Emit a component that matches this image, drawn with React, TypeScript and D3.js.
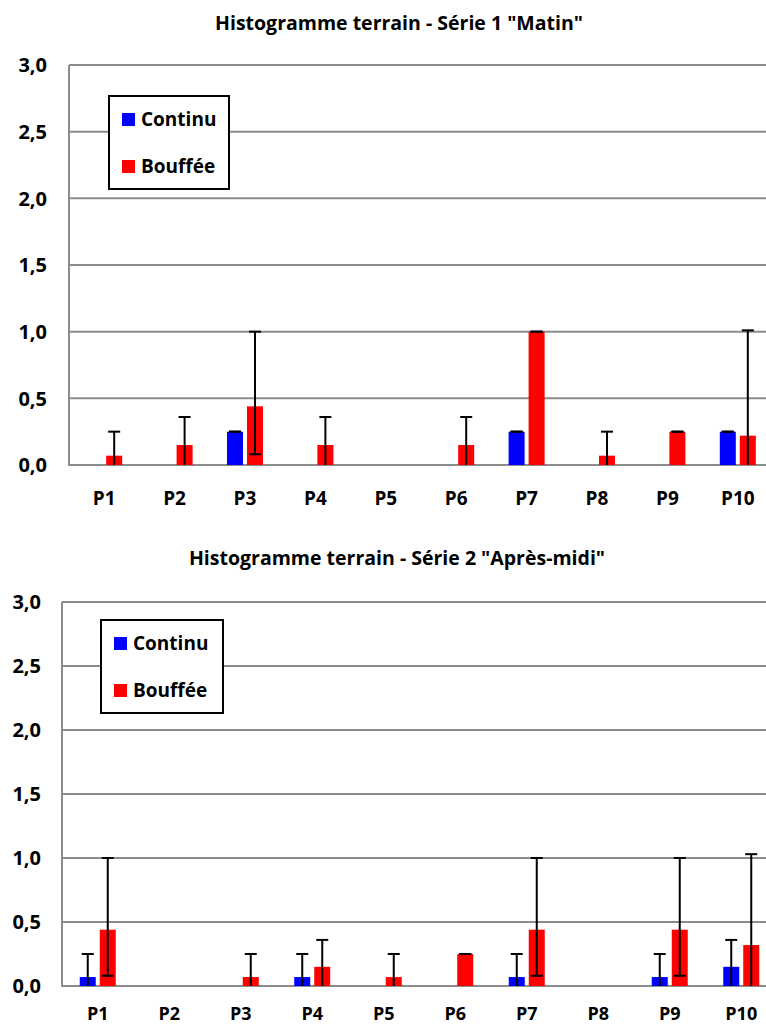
import * as d3 from "d3";

const categories = ["P1", "P2", "P3", "P4", "P5", "P6", "P7", "P8", "P9", "P10"];
const yTicks = [0, 0.5, 1, 1.5, 2, 2.5, 3];
const seriesNames = ["Continu", "Bouffée"];
const seriesColors = ["#0000FF", "#FF0000"];

// Série 1 "Matin"
const continu1 = [null, null, 0.25, null, null, null, 0.25, null, null, 0.25];
const continu1Lo = [null, null, 0.25, null, null, null, 0.25, null, null, 0.25];
const continu1Hi = [null, null, 0.25, null, null, null, 0.25, null, null, 0.25];
const bouffee1 = [0.07, 0.15, 0.44, 0.15, null, 0.15, 1.0, 0.07, 0.25, 0.22];
const bouffee1Lo = [0, 0, 0.08, 0, null, 0, 1.0, 0, 0.25, 0];
const bouffee1Hi = [0.25, 0.36, 1.0, 0.36, null, 0.36, 1.0, 0.25, 0.25, 1.01];

// Série 2 "Après-midi"
const continu2 = [0.07, null, null, 0.07, null, null, 0.07, null, 0.07, 0.15];
const continu2Lo = [0, null, null, 0, null, null, 0, null, 0, 0];
const continu2Hi = [0.25, null, null, 0.25, null, null, 0.25, null, 0.25, 0.36];
const bouffee2 = [0.44, null, 0.07, 0.15, 0.07, 0.25, 0.44, null, 0.44, 0.32];
const bouffee2Lo = [0.08, null, 0, 0, 0, 0.25, 0.08, null, 0.08, 0];
const bouffee2Hi = [1.0, null, 0.25, 0.36, 0.25, 0.25, 1.0, null, 1.0, 1.03];

const FONT = "'Open Sans', 'Noto Sans', sans-serif";
const GRID = "#8c8c8c";

type Chart = {
  title: string;
  titleX: number;
  left: number;
  right: number;
  top: number;
  bottom: number;
  titleY: number;
  labelY: number;
  labelSize: number;
  tickRight: number;
  legend: { x: number; y: number; w: number; h: number };
  values: (number | null)[][];
  lows: (number | null)[][];
  highs: (number | null)[][];
};

const charts: Chart[] = [
  {
    title: 'Histogramme terrain - Série 1 "Matin"',
    titleX: 399,
    left: 69,
    right: 773,
    top: 65,
    bottom: 465,
    titleY: 30,
    labelY: 505,
    labelSize: 19,
    tickRight: 47,
    legend: { x: 109, y: 96, w: 120, h: 93 },
    values: [continu1, bouffee1],
    lows: [continu1Lo, bouffee1Lo],
    highs: [continu1Hi, bouffee1Hi],
  },
  {
    title: 'Histogramme terrain - Série 2 "Après-midi"',
    titleX: 397,
    left: 62,
    right: 777,
    top: 602,
    bottom: 986,
    titleY: 565,
    labelY: 1020,
    labelSize: 18,
    tickRight: 41,
    legend: { x: 101, y: 620, w: 122, h: 93 },
    values: [continu2, bouffee2],
    lows: [continu2Lo, bouffee2Lo],
    highs: [continu2Hi, bouffee2Hi],
  },
];

function BarChart({ c }: { c: Chart }) {
  const x = d3.scaleBand<string>().domain(categories).range([c.left, c.right]);
  const inner = d3
    .scaleBand<string>()
    .domain(seriesNames)
    .range([-18, 18])
    .paddingInner(0.2);
  const y = d3.scaleLinear().domain([0, 3]).range([c.bottom, c.top]);
  const fmt = (v: number) => d3.format(".1f")(v).replace(".", ",");
  const capHalf = 6;

  return (
    <g>
      <text
        x={c.titleX}
        y={c.titleY}
        textAnchor="middle"
        fontFamily={FONT}
        fontWeight="bold"
        fontSize={19.5}
        fill="#000"
      >
        {c.title}
      </text>

      {/* grid */}
      {yTicks.map((t) => (
        <g key={t}>
          <line x1={c.left} x2={c.right} y1={y(t)} y2={y(t)} stroke={GRID} strokeWidth={2} />
          <text
            x={c.tickRight}
            y={y(t)}
            dy="0.36em"
            textAnchor="end"
            fontFamily={FONT}
            fontWeight="bold"
            fontSize={20}
            fill="#000"
          >
            {fmt(t)}
          </text>
        </g>
      ))}
      <line x1={c.left} x2={c.left} y1={c.top} y2={c.bottom + 1} stroke={GRID} strokeWidth={2} />

      {/* bars */}
      {seriesNames.map((s, si) =>
        categories.map((cat, i) => {
          const v = c.values[si][i];
          if (v === null) return null;
          const bx = (x(cat) as number) + x.bandwidth() / 2 + (inner(s) as number);
          return (
            <rect
              key={s + cat}
              x={bx}
              y={y(v)}
              width={inner.bandwidth()}
              height={y(0) - y(v)}
              fill={seriesColors[si]}
            />
          );
        })
      )}

      {/* error bars */}
      {seriesNames.map((s, si) =>
        categories.map((cat, i) => {
          const lo = c.lows[si][i];
          const hi = c.highs[si][i];
          if (lo === null || hi === null) return null;
          const cx = (x(cat) as number) + x.bandwidth() / 2 + (inner(s) as number) + inner.bandwidth() / 2;
          return (
            <g key={"e" + s + cat} stroke="#000" strokeWidth={2}>
              {hi > lo && <line x1={cx} x2={cx} y1={y(hi)} y2={y(lo)} />}
              <line x1={cx - capHalf} x2={cx + capHalf} y1={y(hi)} y2={y(hi)} />
              {lo > 0 && <line x1={cx - capHalf} x2={cx + capHalf} y1={y(lo)} y2={y(lo)} />}
            </g>
          );
        })
      )}

      {/* category labels */}
      {categories.map((cat) => (
        <text
          key={cat}
          x={(x(cat) as number) + x.bandwidth() / 2}
          y={c.labelY}
          textAnchor="middle"
          fontFamily={FONT}
          fontWeight="bold"
          fontSize={c.labelSize}
          fill="#000"
        >
          {cat}
        </text>
      ))}

      {/* legend */}
      <rect
        x={c.legend.x}
        y={c.legend.y}
        width={c.legend.w}
        height={c.legend.h}
        fill="#fff"
        stroke="#000"
        strokeWidth={2}
      />
      {seriesNames.map((s, si) => (
        <g key={"l" + s}>
          <rect
            x={c.legend.x + 13}
            y={c.legend.y + 17 + si * 47}
            width={13}
            height={13}
            fill={seriesColors[si]}
          />
          <text
            x={c.legend.x + 32}
            y={c.legend.y + 30 + si * 47}
            fontFamily={FONT}
            fontWeight="bold"
            fontSize={19}
            fill="#000"
          >
            {s}
          </text>
        </g>
      ))}
    </g>
  );
}

export default function App() {
  return (
    <svg
      width={766}
      height={1026}
      style={{ position: "absolute", left: 0, top: 0, background: "#fff" }}
    >
      <rect width={766} height={1026} fill="#fff" />
      {charts.map((c) => (
        <BarChart key={c.title} c={c} />
      ))}
    </svg>
  );
}
